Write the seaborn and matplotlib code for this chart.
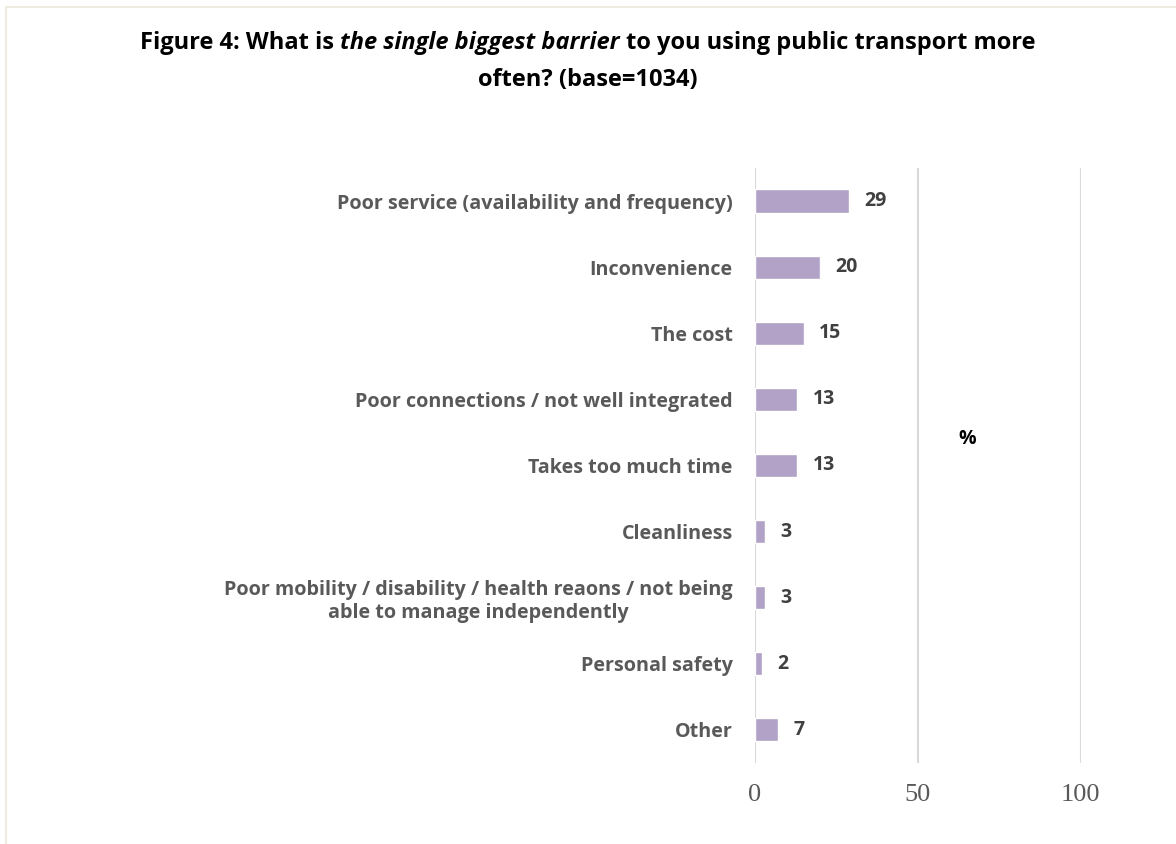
import matplotlib
matplotlib.use("Agg")
import matplotlib.pyplot as plt
from matplotlib.lines import Line2D
import seaborn as sns
import pandas as pd

# Survey responses: single biggest barrier to using public transport more
categories = [
    "Poor service (availability and frequency)",
    "Inconvenience",
    "The cost",
    "Poor connections / not well integrated",
    "Takes too much time",
    "Cleanliness",
    "Poor mobility / disability / health reaons / not being\nable to manage independently",
    "Personal safety",
    "Other",
]
percentages = [29, 20, 15, 13, 13, 3, 3, 2, 7]
x_ticks = [0, 50, 100]

df = pd.DataFrame({"barrier": categories, "pct": percentages})

sns.set_theme(style="white")
plt.rcParams["font.family"] = ["Open Sans", "DejaVu Sans"]

fig = plt.figure(figsize=(11.76, 8.44), dpi=100)
ax = fig.add_axes([0.642, 0.096, 0.277, 0.705])

sns.barplot(data=df, y="barrier", x="pct", color="#B3A2C7", width=0.35,
            saturation=1, ax=ax, orient="h")

ax.set_xlim(0, 100)
ax.set_xticks(x_ticks)
ax.set_xticklabels([str(t) for t in x_ticks], family="Liberation Serif",
                   fontsize=19, color="#595959")
ax.tick_params(axis="x", length=0, pad=15)
ax.tick_params(axis="y", length=0, pad=16)
for lbl in ax.get_yticklabels():
    lbl.set_fontsize(14.2)
    lbl.set_fontweight("bold")
    lbl.set_color("#595959")
    lbl.set_multialignment("center")

ax.xaxis.grid(True, color="#D9D9D9", linewidth=1.5)
ax.set_axisbelow(True)
for s in ax.spines.values():
    s.set_visible(False)
ax.set_xlabel("")
ax.set_ylabel("")

# Value labels next to each bar
for container in ax.containers:
    ax.bar_label(container, labels=[str(v) for v in percentages], padding=11,
                 fontsize=14, fontweight="bold", color="#404040")

# Axis unit marker
ax.text(65, 3.6, "%", fontsize=14, fontweight="bold", color="black",
        ha="center", va="center")

# Title with an italic phrase in the first line
renderer = fig.canvas.get_renderer()
pieces = [("Figure 4: What is ", "normal"), ("the single biggest barrier", "italic"),
          (" to you using public transport more", "normal")]
tprops = dict(fontsize=17, fontweight="bold", color="black", va="baseline")
artists = []
for txt, style in pieces:
    artists.append(fig.text(0, 0.942, txt, style=style, **tprops))
widths = [t.get_window_extent(renderer).width / fig.bbox.width for t in artists]
x = 0.5 - sum(widths) / 2
for t, w in zip(artists, widths):
    t.set_x(x)
    x += w
fig.text(0.5, 0.898, "often? (base=1034)", ha="center", **tprops)

# Faint page frame at top and left
fig.add_artist(Line2D([0.005, 0.005], [0.0, 0.992], transform=fig.transFigure,
                      color="#EEECE1", linewidth=1.5))
fig.add_artist(Line2D([0.005, 1.0], [0.992, 0.992], transform=fig.transFigure,
                      color="#EEECE1", linewidth=1.5))

fig.savefig("out.png", dpi=100, facecolor="white")
